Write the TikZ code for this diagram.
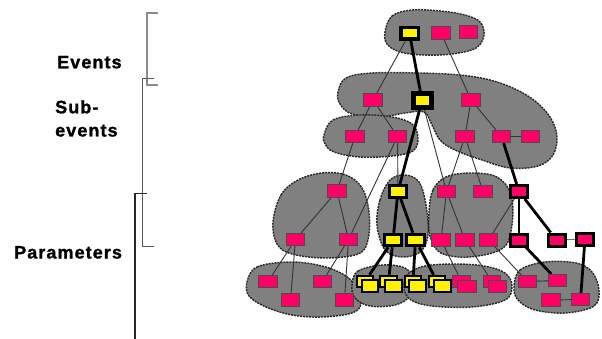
\documentclass[tikz,border=0pt]{standalone}
\usepackage{fontspec}
\setmainfont{Liberation Sans}
\newfontfamily\lblfont[LetterSpace=6,FakeBold=1.3]{Liberation Sans Bold}
\pgfdeclarelayer{bg}
\pgfdeclarelayer{edges}
\pgfsetlayers{bg,edges,main}
\definecolor{pinkc}{RGB}{255,0,102}
\definecolor{blobgray}{RGB}{128,128,128}
\tikzset{
  blob/.style={fill=blobgray, draw=black!85, line width=1.4pt, dash pattern=on 2pt off 1pt},
  pnode/.style={rectangle, fill=pinkc, draw=black!70, line width=0.8pt, minimum width=18.5pt, minimum height=12.5pt, inner sep=0pt},
  pthick/.style={rectangle, fill=pinkc, draw=black, line width=3pt, minimum width=17pt, minimum height=12pt, inner sep=0pt},
  ynode/.style={rectangle, fill=yellow, draw=black, line width=3pt, minimum width=17.5pt, minimum height=11.5pt, inner sep=0pt},
  ybig/.style={ynode, line width=5pt, minimum width=18pt, minimum height=14pt},
  ystack/.style={rectangle, fill=yellow, draw=black, line width=2pt, minimum width=16.5pt, minimum height=11.5pt, inner sep=0pt},
  thin/.style={draw=black!80, line width=0.9pt},
  thk/.style={draw=black, line width=2.8pt},
  lbl/.style={anchor=base west, inner sep=0pt, font=\lblfont\fontsize{18}{21}\selectfont},
  brk/.style={line width=1.2pt}
}
\begin{document}
\begin{tikzpicture}[x=1pt,y=-1pt]
\useasboundingbox (0,0) rectangle (602,339);
% labels
\node[lbl] (tEv) at (57,68.3) {Events};
\node[lbl] (tSub) at (55,113.3) {Sub-};
\node[lbl] (tSev) at (55,136.5) {events};
\node[lbl] (tPar) at (14,258.5) {Parameters};
% brackets
\draw[brk, draw=black!45] (157.5,13) -- (147,13) -- (147,85) -- (157.5,85);
\draw[brk, draw=black!65] (153.5,78.5) -- (142.3,78.5) -- (142.3,246.7) -- (153.5,246.7);
\draw[brk, draw=black!85] (147,193.3) -- (135,193.3) -- (135,339);
% blobs
\begin{pgfonlayer}{bg}
\draw[blob] plot[smooth cycle, tension=0.6] coordinates {(385,32) (392,16) (412,10) (440,11) (465,15) (480,22) (484,35) (476,48) (452,54) (424,55) (400,52) (387,44)};
\draw[blob] plot[smooth cycle, tension=0.6] coordinates {(338,92) (346,78) (372,73) (420,73) (460,75) (490,80) (515,89) (535,101) (550,117) (557,136) (553,155) (538,166) (510,168) (482,160) (455,150) (440,140) (432,125) (424,112) (405,113) (380,117) (352,114) (340,104)};
\draw[blob] plot[smooth cycle, tension=0.6] coordinates {(324,135) (333,120) (360,115) (392,117) (412,124) (418,138) (413,151) (392,156) (360,157) (334,152) (325,144)};
\draw[blob] plot[smooth cycle, tension=0.6] coordinates {(273,222) (281,195) (298,180) (322,173) (346,175) (362,188) (369,212) (368,240) (358,254) (325,258) (292,254) (277,244)};
\draw[blob] plot[smooth cycle, tension=0.6] coordinates {(247,282) (257,267) (290,262) (322,266) (346,276) (358,290) (361,304) (352,313) (322,317) (292,315) (266,307) (249,296)};
\draw[blob] plot[smooth cycle, tension=0.6] coordinates {(377,225) (380,200) (390,180) (405,175) (419,182) (426,205) (428,235) (420,252) (402,257) (385,250)};
\draw[blob] plot[smooth cycle, tension=0.6] coordinates {(429,212) (433,190) (446,177) (470,173) (497,177) (511,195) (512,225) (503,248) (470,257) (441,253) (430,236)};
\draw[blob] plot[smooth cycle, tension=0.6] coordinates {(352,285) (358,271) (383,265) (405,268) (413,280) (410,296) (395,305) (370,306) (355,298)};
\draw[blob] plot[smooth cycle, tension=0.6] coordinates {(404,288) (408,274) (425,266) (455,264) (484,266) (505,273) (512,286) (505,300) (472,307) (432,306) (411,300)};
\draw[blob] plot[smooth cycle, tension=0.6] coordinates {(514,287) (520,270) (545,262) (576,263) (592,272) (599,290) (594,306) (566,313) (535,310) (518,300)};
\end{pgfonlayer}
% events
\node[ynode, line width=3.5pt] (e1) at (409.5,33.5) {};
\node[pnode] (e2) at (441,33) {};
\node[pnode] (e3) at (468.5,32) {};
% sub-events
\node[pnode] (s1) at (373,100) {};
\node[ybig] (s2) at (422,100.5) {};
\node[pnode] (s3) at (471,100) {};
\node[pnode] (s4) at (355,136.5) {};
\node[pnode] (s5) at (397.5,136.5) {};
\node[pnode] (s6) at (465,136.5) {};
\node[pnode] (s7) at (501.5,136.5) {};
\node[pnode] (s8) at (530.5,136.5) {};
% parameters row 1
\node[pnode] (p1) at (337,191) {};
\node[ynode] (p2) at (398,191.5) {};
\node[pnode] (p3) at (446.5,191.5) {};
\node[pnode] (p4) at (483,191.5) {};
\node[pthick] (p5) at (519,191.5) {};
% parameters row 2
\node[pnode] (q1) at (295.5,239.5) {};
\node[pnode] (q2) at (348.5,239.5) {};
\node[ynode] (q3) at (393,240) {};
\node[ynode] (q4) at (415.5,240) {};
\node[pnode] (q5) at (441,240) {};
\node[pnode] (q6) at (465,240) {};
\node[pnode] (q7) at (488.5,240) {};
\node[pthick] (q8) at (519,240) {};
\node[pthick] (q9) at (556.5,240) {};
\node[pthick] (q10) at (585,239) {};
% parameters row 3
\node[pnode] (r1) at (268,281.5) {};
\node[pnode] (r2) at (322.5,281.5) {};
\node[pnode] (r3) at (290.5,300) {};
\node[pnode] (r4) at (344.5,300) {};
\node[ystack] (ya1) at (365,281.5) {};
\node[ystack] (yb1) at (370,286) {};
\node[ystack] (ya2) at (388.5,281.5) {};
\node[ystack] (yb2) at (393.5,286) {};
\node[ystack] (ya3) at (413,281.5) {};
\node[ystack] (yb3) at (417.5,286) {};
\node[ystack] (ya4) at (437,281.5) {};
\node[ystack] (yb4) at (442.5,286) {};
\node[pnode, minimum width=17.5pt] (pa1) at (461.5,281.5) {};
\node[pnode] (pb1) at (467,286.5) {};
\node[pnode, minimum width=17.5pt] (pa2) at (492,281.5) {};
\node[pnode] (pb2) at (497.5,286.5) {};
\node[pnode] (f1) at (527.5,281.5) {};
\node[pnode] (f2) at (557.5,280.5) {};
\node[pnode] (f3) at (551,300) {};
\node[pnode] (f4) at (580.5,299.5) {};
% connectors
\begin{pgfonlayer}{edges}
\draw[thin] (e1) -- (s1);
\draw[thk] (e1) -- (s2);
\draw[thin] (e2) -- (s3);
\draw[thin] (s1) -- (s4);
\draw[thin] (s1) -- (s5);
\draw[thk] (s2) -- (p2);
\draw[thin] (s2) -- (p3);
\draw[thin] (s3) -- (s6);
\draw[thin] (s3) -- (s7);
\draw[thin] (s7) -- (s8);
\draw[thin] (s4) -- (p1);
\draw[thin] (s5) -- (q2);
\draw[thin] (s5) -- (p2);
\draw[thin] (s6) -- (p3);
\draw[thin] (s6) -- (p4);
\draw[thk] (s7) -- (p5);
\draw[thin] (p1) -- (q1);
\draw[thin] (p1) -- (q2);
\draw[thk] (p2) -- (q3);
\draw[thk] (p2) -- (q4);
\draw[thin] (p3) -- (q5);
\draw[thin] (p3) -- (q6);
\draw[thin] (p5) -- (q7);
\draw[thk] (p5) -- (q8);
\draw[thk] (p5) -- (q9);
\draw[thin, draw=black!55] (q9) -- (q10);
\draw[thk] (q10) -- (f4);
\draw[thk] (q8) -- (f2);
\draw[thin] (q1) -- (r1);
\draw[thin] (q1) -- (r3);
\draw[thin] (q2) -- (r2);
\draw[thin] (q2) -- (r4);
\draw[thk] (q3) -- (ya1);
\draw[thk] (q3) -- (ya2);
\draw[thk] (q4) -- (ya3);
\draw[thk] (q4) -- (ya4);
\draw[thin] (q5) -- (pa1);
\draw[thin] (q6) -- (pa2);
\draw[thin] (q7) -- (f1);
\draw[thin] (f1) -- (f2);
\draw[thin] (f3) -- (f4);
\end{pgfonlayer}
\end{tikzpicture}
\end{document}
